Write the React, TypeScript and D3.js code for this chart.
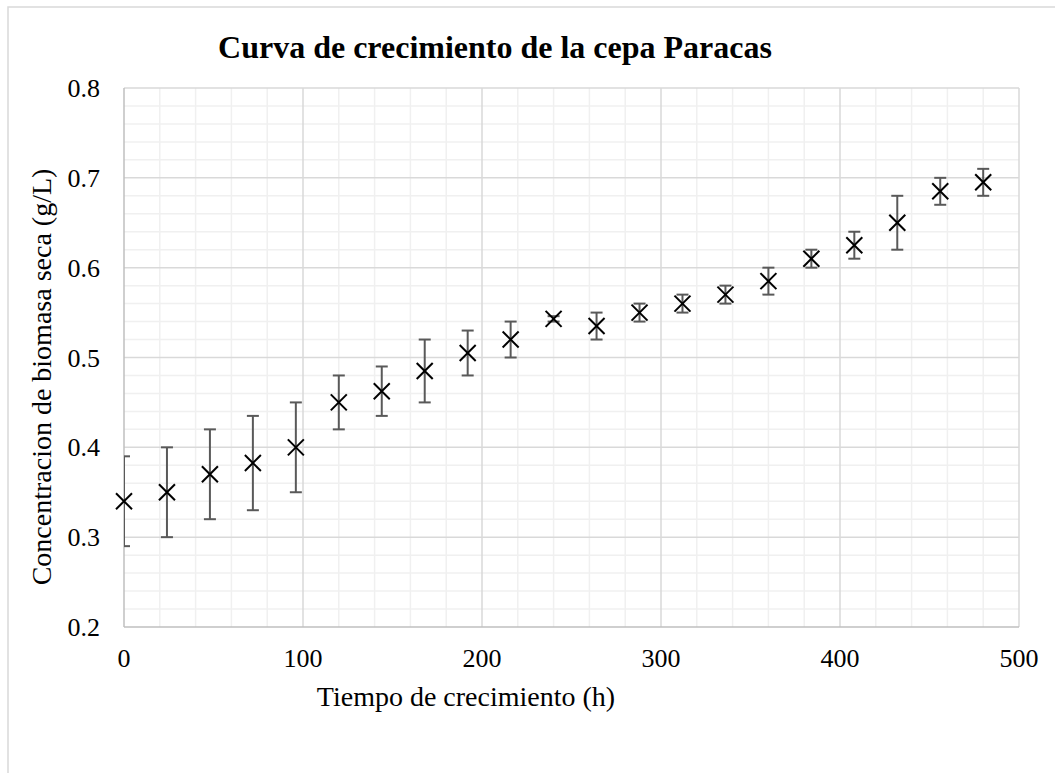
import React from "react";
import * as d3 from "d3";

const hours = [0, 24, 48, 72, 96, 120, 144, 168, 192, 216, 240, 264, 288, 312, 336, 360, 384, 408, 432, 456, 480];
const biomass = [0.34, 0.35, 0.37, 0.3825, 0.4, 0.45, 0.4625, 0.485, 0.505, 0.52, 0.543, 0.535, 0.55, 0.56, 0.57, 0.585, 0.61, 0.625, 0.65, 0.685, 0.695];
const errors = [0.05, 0.05, 0.05, 0.0525, 0.05, 0.03, 0.0275, 0.035, 0.025, 0.02, 0.003, 0.015, 0.01, 0.01, 0.01, 0.015, 0.01, 0.015, 0.03, 0.015, 0.015];
const xTicks = [0, 100, 200, 300, 400, 500];
const yTicks = [0.2, 0.3, 0.4, 0.5, 0.6, 0.7, 0.8];
const title = "Curva de crecimiento de la cepa Paracas";
const xTitle = "Tiempo de crecimiento (h)";
const yTitle = "Concentracion de biomasa seca (g/L)";

const W = 1055, H = 773;
const L = 124, R = 1019, T = 88, B = 627;
const font = "Liberation Serif, Times New Roman, serif";

export default function App() {
  const x = d3.scaleLinear().domain([0, 500]).range([L, R]);
  const y = d3.scaleLinear().domain([0.2, 0.8]).range([B, T]);
  const xMinor = d3.range(0, 501, 20);
  const yMinor = d3.range(0, 31).map((i) => 0.2 + i * 0.02);
  const isMajorX = (v: number) => Math.abs(v % 100) < 1e-6;
  const isMajorY = (v: number) => Math.abs(Math.round(v * 10) - v * 10) < 1e-6;
  const m = 8;
  return (
    <svg width={W} height={H} style={{ position: "absolute", left: 0, top: 0, background: "#fff" }}>
      <defs>
        <clipPath id="plot">
          <rect x={L} y={T} width={R - L} height={B - T} />
        </clipPath>
      </defs>
      <rect x={8} y={7} width={W + 10} height={H + 10} fill="#fff" stroke="#d9d9d9" strokeWidth={1.5} />
      {xMinor.filter((v) => !isMajorX(v)).map((v) => (
        <line key={"xm" + v} x1={x(v)} x2={x(v)} y1={T} y2={B} stroke="#f0f0f0" strokeWidth={1.5} />
      ))}
      {yMinor.filter((v) => !isMajorY(v)).map((v) => (
        <line key={"ym" + v} x1={L} x2={R} y1={y(v)} y2={y(v)} stroke="#f0f0f0" strokeWidth={1.5} />
      ))}
      {xTicks.slice(1).map((v) => (
        <line key={"xM" + v} x1={x(v)} x2={x(v)} y1={T} y2={B} stroke="#d9d9d9" strokeWidth={1.5} />
      ))}
      {yTicks.slice(1).map((v) => (
        <line key={"yM" + v} x1={L} x2={R} y1={y(v)} y2={y(v)} stroke="#d9d9d9" strokeWidth={1.5} />
      ))}
      <line x1={L} x2={L} y1={T} y2={B} stroke="#bfbfbf" strokeWidth={1.5} />
      <line x1={L} x2={R} y1={B} y2={B} stroke="#bfbfbf" strokeWidth={1.5} />
      <g clipPath="url(#plot)" stroke="#595959" strokeWidth={2}>
        {hours.map((h, i) => {
          const cx = x(h);
          const y1 = y(biomass[i] + errors[i]);
          const y2 = y(biomass[i] - errors[i]);
          return (
            <g key={"e" + i}>
              <line x1={cx} x2={cx} y1={y1} y2={y2} />
              <line x1={cx - 6} x2={cx + 6} y1={y1} y2={y1} />
              <line x1={cx - 6} x2={cx + 6} y1={y2} y2={y2} />
            </g>
          );
        })}
      </g>
      <g stroke="#000" strokeWidth={2}>
        {hours.map((h, i) => {
          const cx = x(h), cy = y(biomass[i]);
          return (
            <g key={"m" + i}>
              <line x1={cx - m} x2={cx + m} y1={cy - m} y2={cy + m} />
              <line x1={cx - m} x2={cx + m} y1={cy + m} y2={cy - m} />
            </g>
          );
        })}
      </g>
      {xTicks.map((v) => (
        <text key={"xt" + v} x={x(v)} y={667} textAnchor="middle" fontFamily={font} fontSize={26} fill="#000">
          {v}
        </text>
      ))}
      {yTicks.map((v) => (
        <text key={"yt" + v} x={100} y={y(v) + 9} textAnchor="end" fontFamily={font} fontSize={26} fill="#000">
          {v.toFixed(1)}
        </text>
      ))}
      <text x={495} y={58} textAnchor="middle" fontFamily={font} fontSize={32} fontWeight="bold" fill="#000">
        {title}
      </text>
      <text x={466} y={706} textAnchor="middle" fontFamily={font} fontSize={28} fill="#000">
        {xTitle}
      </text>
      <text transform={`translate(51, 377) rotate(-90)`} textAnchor="middle" fontFamily={font} fontSize={28} fill="#000">
        {yTitle}
      </text>
    </svg>
  );
}
